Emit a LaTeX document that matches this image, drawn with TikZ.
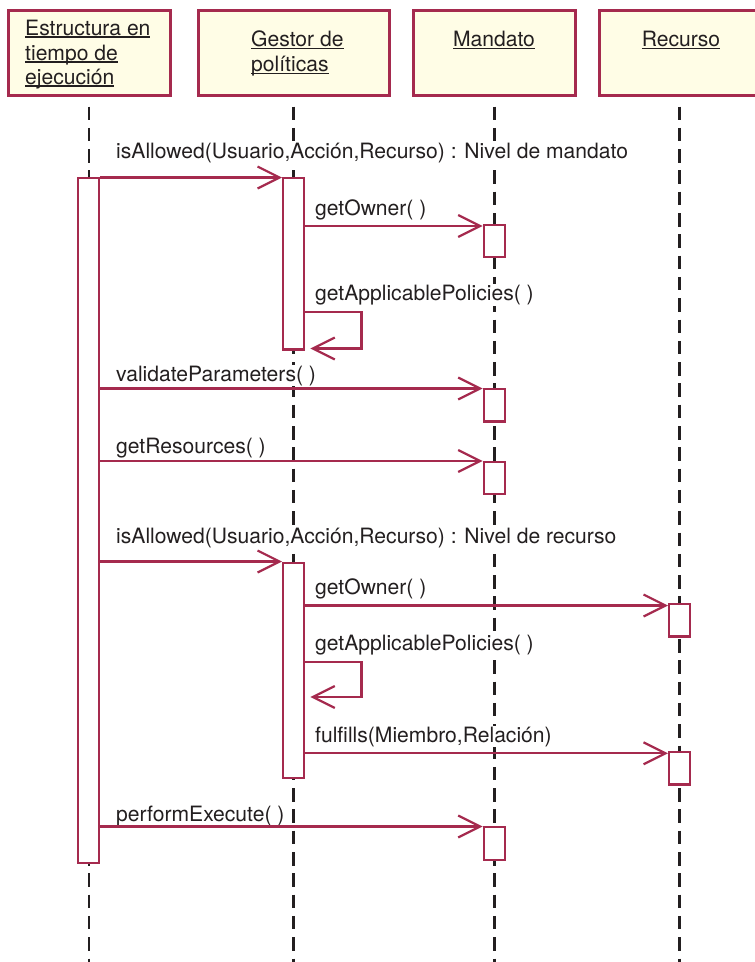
\documentclass[tikz,border=0pt]{standalone}
\usepackage{fontspec}
\setmainfont{TeX Gyre Heros}
\usetikzlibrary{arrows.meta}
\definecolor{umlred}{HTML}{A52A4E}
\definecolor{headfill}{HTML}{FFFDE6}
\definecolor{ink}{HTML}{231F20}
% underline at a fixed depth below the baseline
\newcommand\ulword[1]{\setbox0\hbox{#1}\rlap{\rule[-2.6pt]{\wd0}{1.2pt}}\box0}
\begin{document}
\begin{tikzpicture}[x=1pt,y=-1pt,
  every node/.style={font=\fontsize{21.1}{25}\selectfont, text=ink},
  headbox/.style={draw=umlred, fill=headfill, line width=3pt, inner sep=0pt},
  headtext/.style={inner sep=0pt},
  lifeline/.style={draw=ink, line width=2.6pt, dash pattern=on 13.5pt off 7.8pt},
  actbar/.style={draw=umlred, fill=white, line width=2.4pt, inner sep=0pt, minimum width=21pt},
  msg/.style={draw=umlred, line width=2.2pt, -{Straight Barb[length=22pt,width=22pt]}},
  msglabel/.style={anchor=base west, fill=white, inner xsep=0pt, inner ysep=1pt}
]
\useasboundingbox (0,0) rectangle (755,962);

% object headers
\node[headbox, minimum width=162pt, minimum height=84.7pt] (rt) at (89.8,52.8) {};
\node[headbox, minimum width=190.4pt, minimum height=84.7pt] (gp) at (294,52.8) {};
\node[headbox, minimum width=162pt, minimum height=84.7pt] (md) at (494.2,52.8) {};
\node[headbox, minimum width=162pt, minimum height=84.7pt] (rc) at (680.2,52.8) {};

\node[headtext, anchor=base west] (rt1) at (25,35) {\ulword{Estructura en}};
\node[headtext, anchor=base west] (rt2) at (25,60) {\ulword{tiempo de}};
\node[headtext, anchor=base west] (rt3) at (25,84) {\ulword{ejecución}};
\node[headtext, anchor=base west] (gp1) at (251,46.7) {\ulword{Gestor de}};
\node[headtext, anchor=base west] (gp2) at (251,71.7) {\ulword{políticas}};
\node[headtext, anchor=base] (md1) at (494,46.7) {\ulword{Mandato}};
\node[headtext, anchor=base] (rc1) at (681,46.7) {\ulword{Recurso}};

% lifelines
\foreach \n/\x in {rt/89,gp/293.6,md/494.2,rc/679.6} {
  \coordinate (\n-top) at (\x,106.5);
  \coordinate (\n-bot) at (\x,962);
  \draw[lifeline] (\n-top) -- (\n-bot);
}

% message labels
\node[msglabel] (l1) at (116,158) {isAllowed(Usuario,Acción,Recurso) : Nivel de mandato};
\node[msglabel] (l2) at (315,215) {getOwner( )};
\node[msglabel] (l3) at (315,300) {getApplicablePolicies( )};
\node[msglabel] (l4) at (116,381) {validateParameters( )};
\node[msglabel] (l5) at (116,453) {getResources( )};
\node[msglabel] (l6) at (116,543) {isAllowed(Usuario,Acción,Recurso) : Nivel de recurso};
\node[msglabel] (l7) at (315,594) {getOwner( )};
\node[msglabel] (l8) at (315,650) {getApplicablePolicies( )};
\node[msglabel] (l9) at (315,742) {fulfills(Miembro,Relación)};
\node[msglabel] (l10) at (116,821) {performExecute( )};

% activation bars
\node[actbar, minimum height=685.2pt] (a1) at (88.6,520.5) {};
\node[actbar, minimum height=171.6pt] (a2) at (293.7,263.7) {};
\node[actbar, minimum height=31.6pt] (a3) at (494.3,241) {};
\node[actbar, minimum height=32.3pt] (a4) at (494.3,405.3) {};
\node[actbar, minimum height=32pt] (a5) at (494.3,477.9) {};
\node[actbar, minimum height=215.2pt] (a6) at (293.7,670.5) {};
\node[actbar, minimum height=32.6pt] (a7) at (679.7,620.2) {};
\node[actbar, minimum height=32.3pt] (a8) at (679.7,768.3) {};
\node[actbar, minimum height=32.6pt] (a9) at (494.3,843.5) {};

% message heights
\coordinate (y1) at (0,177.5);
\coordinate (y2) at (0,226);
\coordinate (s1a) at (0,312);
\coordinate (s1b) at (0,348.5);
\coordinate (y4) at (0,388.5);
\coordinate (y5) at (0,461);
\coordinate (y6) at (0,561.5);
\coordinate (y7) at (0,605.5);
\coordinate (s2a) at (0,661.7);
\coordinate (s2b) at (0,697);
\coordinate (y9) at (0,753.3);
\coordinate (y10) at (0,826.5);
\coordinate (loop) at (361.5,0);

% messages
\draw[msg] (a1.east |- y1) -- (a2.west |- y1);
\draw[msg] (a2.east |- y2) -- (a3.west |- y2);
\draw[msg] (a2.east |- s1a) -| (loop |- s1b) -- ([xshift=5pt]a2.east |- s1b);
\draw[msg] (a1.east |- y4) -- (a4.west |- y4);
\draw[msg] (a1.east |- y5) -- (a5.west |- y5);
\draw[msg] (a1.east |- y6) -- (a6.west |- y6);
\draw[msg] (a6.east |- y7) -- (a7.west |- y7);
\draw[msg] (a6.east |- s2a) -| (loop |- s2b) -- ([xshift=5pt]a6.east |- s2b);
\draw[msg] (a6.east |- y9) -- (a8.west |- y9);
\draw[msg] (a1.east |- y10) -- (a9.west |- y10);
\end{tikzpicture}
\end{document}
